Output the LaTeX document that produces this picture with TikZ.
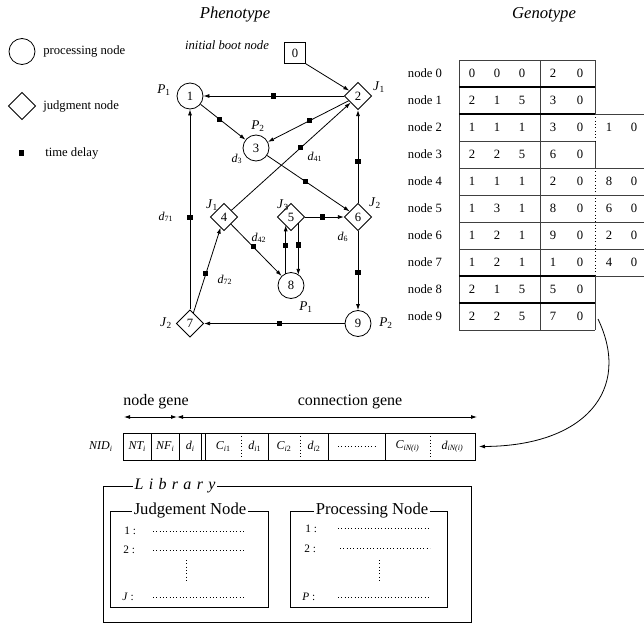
\documentclass[tikz,border=0pt]{standalone}
\usepackage{fontspec}
\setmainfont{Liberation Serif}
\usetikzlibrary{arrows.meta,shapes.geometric,calc}
\newcommand\sbs[2]{\textit{#1}\textsubscript{#2}}
\begin{document}
\begin{tikzpicture}[x=0.75pt,y=-0.75pt,
  pnode/.style={circle,draw,line width=0.6pt,minimum size=19.5pt,inner sep=0pt,font=\fontsize{9.5}{11}\selectfont},
  jnode/.style={diamond,draw,line width=0.6pt,minimum size=20.5pt,inner sep=0pt,font=\fontsize{9.5}{11}\selectfont},
  delay/.style={rectangle,fill=black,minimum size=3.8pt,inner sep=0pt,outer sep=0pt},
  edge/.style={line width=0.6pt,-{Latex[length=4.5pt,width=3pt]}},
  lab/.style={font=\fontsize{10}{12}\selectfont,inner sep=0pt},
  dlab/.style={font=\fontsize{9}{11}\selectfont,inner sep=0pt},
  legtxt/.style={font=\fontsize{9.5}{11}\selectfont,anchor=west,inner sep=0pt},
  title/.style={font=\fontsize{12.5}{14}\selectfont\itshape,inner sep=0pt},
  tab/.style={font=\fontsize{9.5}{11}\selectfont,inner sep=0pt},
  tline/.style={line width=0.7pt,draw=black!75},
  thick line/.style={line width=1.2pt},
  gcell/.style={font=\fontsize{9}{11}\selectfont\itshape,inner sep=0pt},
  libtitle/.style={font=\fontsize{12.5}{14}\selectfont,fill=white,inner sep=1pt},
  item/.style={font=\fontsize{8.5}{10}\selectfont,anchor=west,inner sep=0pt},
  dotl/.style={dotted,line width=0.5pt},
  garrow/.style={line width=0.6pt,{Latex[length=4.5pt,width=3pt]}-{Latex[length=4.5pt,width=3pt]}}
]
\useasboundingbox (0,0) rectangle (644,628);

% ---------- titles ----------
\node[title] (tphen) at (235,15) {Phenotype};
\node[title] (tgen) at (544,15) {Genotype};

% ---------- legend ----------
\node[pnode] (lp) at (22,51.5) {};
\node[legtxt] (lpt) at (43,51.5) {processing node};
\node[jnode] (lj) at (22,106) {};
\node[legtxt] (ljt) at (43,106) {judgment node};
\node[delay] (ld) at (21.5,153) {};
\node[legtxt] (ldt) at (45,153) {time delay};

% ---------- phenotype ----------
\node[font=\fontsize{9.5}{11}\selectfont\itshape,inner sep=0pt] (boot) at (227,45) {initial boot node};
\node[draw,line width=0.6pt,minimum size=15.5pt,inner sep=0pt,font=\fontsize{9.5}{11}\selectfont] (n0) at (295,53) {0};
\node[pnode] (n1) at (190,96) {1};
\node[jnode] (n2) at (358,96) {2};
\node[pnode] (n3) at (256,148) {3};
\node[jnode] (n4) at (224,217) {4};
\node[jnode] (n5) at (291,217) {5};
\node[jnode] (n6) at (358,217) {6};
\node[jnode] (n7) at (190,323.5) {7};
\node[pnode] (n8) at (291,285.5) {8};
\node[pnode] (n9) at (358,323.5) {9};

\node[lab] (p1a) at (164,90) {\sbs{P}{1}};
\node[lab] (j1a) at (379,87) {\sbs{J}{1}};
\node[lab] (p2a) at (258,126) {\sbs{P}{2}};
\node[dlab] (d3) at (237,159) {\sbs{d}{3}};
\node[dlab] (d41) at (315,157) {\sbs{d}{41}};
\node[lab] (j1b) at (212,205) {\sbs{J}{1}};
\node[lab] (j3) at (283,205) {\sbs{J}{3}};
\node[lab] (j2a) at (375,203) {\sbs{J}{2}};
\node[dlab] (d6) at (343,237) {\sbs{d}{6}};
\node[dlab] (d42) at (259,238) {\sbs{d}{42}};
\node[dlab] (d72) at (225,280) {\sbs{d}{72}};
\node[dlab] (d71) at (166,217) {\sbs{d}{71}};
\node[lab] (p1b) at (306,307) {\sbs{P}{1}};
\node[lab] (p2b) at (386,323.5) {\sbs{P}{2}};
\node[lab] (j2b) at (166,323.5) {\sbs{J}{2}};

\draw[edge] (n0.south east) -- (n2);
\draw[edge] (n2) -- node[delay,pos=0.5] (dl21) {} (n1);
\draw[edge] (n1) -- node[delay,pos=0.43] (dl13) {} (n3);
\draw[edge] (n2) -- node[delay,pos=0.49] (dl23) {} (n3);
\draw[edge] (n4) -- node[delay,pos=0.58] (dl42) {} (n2);
\draw[edge] (n3) -- node[delay,pos=0.46] (dl36) {} (n6);
\draw[edge] (n6) -- node[delay,pos=0.45] (dl62) {} (n2);
\draw[edge] (n5) -- node[delay,pos=0.46] (dl56) {} (n6);
\draw[edge] (n4) -- node[delay,pos=0.44] (dl48) {} (n8);
\draw[edge] ($(n8)+(-5.3,-12)$) -- node[delay,pos=0.59] (dl85) {} ($(n5)+(-5.3,8.3)$);
\draw[edge] ($(n5)+(7.3,6.3)$) -- node[delay,pos=0.42] (dl58) {} ($(n8)+(7.3,-10.6)$);
\draw[edge] (n6) -- node[delay,pos=0.52] (dl69) {} (n9);
\draw[edge] (n9) -- node[delay,pos=0.46] (dl97) {} (n7);
\draw[edge] (n7) -- node[delay,pos=0.46] (dl71) {} (n1);
\draw[edge] (n7) -- node[delay,pos=0.46] (dl74) {} (n4);

% ---------- genotype table ----------
\foreach \i in {0,...,9}{
  \node[tab] (nl\i) at (425,{73.5+27*\i}) {node \i};
}
\foreach \row [count=\i from 0] in {{0,0,0,2,0},{2,1,5,3,0},{1,1,1,3,0,1,0},{2,2,5,6,0},{1,1,1,2,0,8,0},{1,3,1,8,0,6,0},{1,2,1,9,0,2,0},{1,2,1,1,0,4,0},{2,1,5,5,0},{2,2,5,7,0}}{
  \foreach \v [count=\j from 0] in \row {
    \pgfmathsetmacro\cx{{472,497,522,553,580,609,634}[\j]}
    \node[tab] (t\i-\j) at (\cx,{73.5+27*\i}) {\v};
  }
}
\draw[tline] (459,60) -- (595,60);
\draw[tline] (459,330) -- (595,330);
\draw[tline] (459,60) -- (459,330);
\draw[tline] (540,60) -- (540,330);
\draw[tline] (595,60) -- (595,114);
\draw[tline] (595,141) -- (595,168);
\draw[tline] (595,276) -- (595,330);
\draw[dotl] (595,114) -- (595,141);
\draw[dotl] (595,168) -- (595,276);
\foreach \y in {141,168,195,222,249}{ \draw[tline] (459,\y) -- (595,\y); }
\foreach \y in {87,114,276,303}{ \draw[thick line] (459,\y) -- (595,\y); }
\foreach \y in {114,168,195,222,249,276}{ \draw[tline] (595,\y) -- (644,\y); }

% ---------- gene strip ----------
\node[font=\fontsize{12}{14}\selectfont,inner sep=0pt] (ngt) at (156,402) {node gene};
\node[font=\fontsize{12}{14}\selectfont,inner sep=0pt] (cgt) at (350,402) {connection gene};
\coordinate (na) at (124,417);
\coordinate (nb) at (177,417);
\coordinate (cb) at (477,417);
\draw[garrow] (na) -- (nb);
\draw[garrow] (nb) -- (cb);

\draw[line width=0.7pt] (123,433) rectangle (475,460);
\foreach \x in {151.7,179,201.7,205,268,328,385}{ \draw[line width=0.7pt] (\x,433) -- (\x,460); }
\foreach \x in {241.7,300,430}{ \draw[dotl] (\x,433) -- (\x,460); }
\draw[dotl] (338,446.5) -- (377,446.5);
\node[gcell,anchor=east] (nid) at (113,446.5) {NID\textsubscript{\textit{i}}};
\node[gcell] (c1) at (137.3,446.5) {NT\textsubscript{\textit{i}}};
\node[gcell] (c2) at (165.3,446.5) {NF\textsubscript{\textit{i}}};
\node[gcell] (c3) at (190.3,446.5) {d\textsubscript{\textit{i}}};
\node[gcell] (c4) at (223.3,446.5) {C\textsubscript{\textit{i}\upshape 1}};
\node[gcell] (c5) at (254.8,446.5) {d\textsubscript{\textit{i}\upshape 1}};
\node[gcell] (c6) at (284,446.5) {C\textsubscript{\textit{i}\upshape 2}};
\node[gcell] (c7) at (314,446.5) {d\textsubscript{\textit{i}\upshape 2}};
\node[gcell] (c8) at (407.5,446.5) {C\textsubscript{\textit{iN(i)}}};
\node[gcell] (c9) at (452.5,446.5) {d\textsubscript{\textit{iN(i)}}};

\coordinate (cs) at (598,319);
\coordinate (ce) at (479,446.5);
\draw[edge] (cs) .. controls (632,390) and (585,446) .. (ce);

% ---------- library ----------
\draw[line width=0.7pt] (103,486) rectangle (471,622);
\node[font=\fontsize{12}{14}\selectfont\itshape,fill=white,inner sep=1.5pt] (lib) at (175,486) {L\,\,i\,\,b\,\,r\,\,a\,\,r\,\,y};
\draw[line width=0.7pt] (110,511) rectangle (268,607);
\node[libtitle] (jt) at (190,511) {Judgement Node};
\draw[line width=0.7pt] (290,511) rectangle (447,607);
\node[libtitle] (pt) at (372,511) {Processing Node};

\node[item] (ji1) at (124,531) {1 :};
\node[item] (ji2) at (123,550) {2 :};
\node[item] (jij) at (122,597) {\textit{J} :};
\draw[dotl] (153,531) -- (245,531);
\draw[dotl] (153,550) -- (245,550);
\draw[dotl] (153,597) -- (245,597);
\draw[dotl] (186,560) -- (186,582);

\node[item] (pi1) at (305,529) {1 :};
\node[item] (pi2) at (304,549) {2 :};
\node[item] (pip) at (302,597) {\textit{P} :};
\draw[dotl] (338,528) -- (430,528);
\draw[dotl] (340,548) -- (430,548);
\draw[dotl] (338,597) -- (430,597);
\draw[dotl] (379.5,560) -- (379.5,582);
\end{tikzpicture}
\end{document}
